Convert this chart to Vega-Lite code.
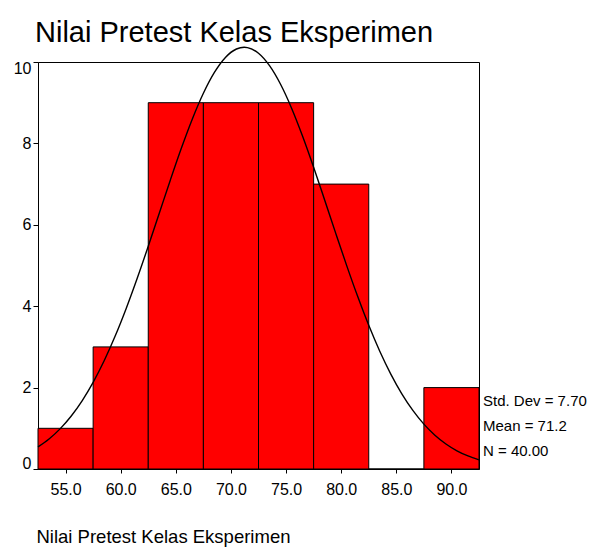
{
  "$schema": "https://vega.github.io/schema/vega-lite/v6.json",
  "width": 441,
  "height": 407,
  "autosize": {"type": "none"},
  "padding": {"left": 38, "top": 62, "right": 115, "bottom": 78},
  "background": "white",
  "config": {
    "font": "Liberation Sans",
    "view": {"stroke": "black", "strokeWidth": 1},
    "axis": {
      "grid": false,
      "domainColor": "black",
      "tickColor": "black",
      "labelColor": "black",
      "labelFont": "Liberation Sans",
      "labelFontSize": 16,
      "titleFont": "Liberation Sans",
      "titleColor": "black",
      "titleFontWeight": "normal"
    }
  },
  "title": {
    "text": "Nilai Pretest Kelas Eksperimen",
    "anchor": "start",
    "frame": "group",
    "font": "Liberation Sans",
    "fontSize": 29,
    "fontWeight": "normal",
    "color": "black",
    "baseline": "alphabetic",
    "dx": -3,
    "dy": 32,
    "offset": 5
  },
  "datasets": {
    "bins": [
      {"start": 52.5, "end": 57.5, "count": 1},
      {"start": 57.5, "end": 62.5, "count": 3},
      {"start": 62.5, "end": 67.5, "count": 9},
      {"start": 67.5, "end": 72.5, "count": 9},
      {"start": 72.5, "end": 77.5, "count": 9},
      {"start": 77.5, "end": 82.5, "count": 7},
      {"start": 82.5, "end": 87.5, "count": 0},
      {"start": 87.5, "end": 92.5, "count": 2}
    ],
    "curve": [
      {"x": 52.5, "d": 0.5429}, {"x": 53.5, "d": 0.7378}, {"x": 54.5, "d": 0.9861},
      {"x": 55.5, "d": 1.2963}, {"x": 56.5, "d": 1.6751}, {"x": 57.5, "d": 2.1284},
      {"x": 58.5, "d": 2.6591}, {"x": 59.5, "d": 3.2664}, {"x": 60.5, "d": 3.9458},
      {"x": 61.5, "d": 4.6866}, {"x": 62.5, "d": 5.4732}, {"x": 63.5, "d": 6.2849},
      {"x": 64.5, "d": 7.0966}, {"x": 65.5, "d": 7.8789}, {"x": 66.5, "d": 8.6010},
      {"x": 67.5, "d": 9.2322}, {"x": 68.5, "d": 9.7443}, {"x": 69.5, "d": 10.1127},
      {"x": 70.5, "d": 10.3194}, {"x": 71.2, "d": 10.3621}, {"x": 71.5, "d": 10.3542},
      {"x": 72.5, "d": 10.2155}, {"x": 73.5, "d": 9.9100}, {"x": 74.5, "d": 9.4529},
      {"x": 75.5, "d": 8.8660}, {"x": 76.5, "d": 8.1764}, {"x": 77.5, "d": 7.4144},
      {"x": 78.5, "d": 6.6111}, {"x": 79.5, "d": 5.7961}, {"x": 80.5, "d": 4.9968},
      {"x": 81.5, "d": 4.2357}, {"x": 82.5, "d": 3.5301}, {"x": 83.5, "d": 2.8931},
      {"x": 84.5, "d": 2.3312}, {"x": 85.5, "d": 1.8472}, {"x": 86.5, "d": 1.4391},
      {"x": 87.5, "d": 1.1024}, {"x": 88.5, "d": 0.8304}, {"x": 89.5, "d": 0.6152},
      {"x": 90.5, "d": 0.4480}, {"x": 91.5, "d": 0.3208}, {"x": 92.5, "d": 0.2259}
    ]
  },
  "layer": [
    {
      "data": {"name": "bins"},
      "mark": {"type": "rect", "fill": "#FF0000", "stroke": "black", "strokeWidth": 1},
      "encoding": {
        "x": {
          "field": "start", "type": "quantitative",
          "scale": {"domain": [52.5, 92.5], "nice": false, "zero": false},
          "axis": {
            "values": [55, 60, 65, 70, 75, 80, 85, 90],
            "format": ".1f",
            "tickSize": 4,
            "labelPadding": 8,
            "title": "Nilai Pretest Kelas Eksperimen",
            "titleFontSize": 18.5,
            "titleX": -2,
            "titleY": 73,
            "titleAlign": "left",
            "titleAnchor": "start",
            "titleBaseline": "alphabetic"
          }
        },
        "x2": {"field": "end"},
        "y": {
          "field": "count", "type": "quantitative",
          "scale": {"domain": [0, 10], "nice": false},
          "axis": {
            "values": [0, 2, 4, 6, 8, 10],
            "tickSize": 5,
            "labelPadding": 2,
            "labelFlush": true,
            "labelFlushOffset": 2,
            "title": null
          }
        },
        "y2": {"datum": 0}
      }
    },
    {
      "data": {"name": "curve"},
      "mark": {"type": "line", "color": "black", "strokeWidth": 1.4, "interpolate": "monotone"},
      "encoding": {
        "x": {"field": "x", "type": "quantitative"},
        "y": {"field": "d", "type": "quantitative"}
      }
    },
    {
      "data": {"values": [{"label": "Std. Dev = 7.70"}]},
      "mark": {"type": "text", "align": "left", "baseline": "middle", "dx": 4, "fontSize": 15, "color": "black"},
      "encoding": {
        "x": {"datum": 92.5},
        "y": {"datum": 1.67},
        "text": {"field": "label"}
      }
    },
    {
      "data": {"values": [{"label": "Mean = 71.2"}]},
      "mark": {"type": "text", "align": "left", "baseline": "middle", "dx": 4, "fontSize": 15, "color": "black"},
      "encoding": {
        "x": {"datum": 92.5},
        "y": {"datum": 1.06},
        "text": {"field": "label"}
      }
    },
    {
      "data": {"values": [{"label": "N = 40.00"}]},
      "mark": {"type": "text", "align": "left", "baseline": "middle", "dx": 4, "fontSize": 15, "color": "black"},
      "encoding": {
        "x": {"datum": 92.5},
        "y": {"datum": 0.44},
        "text": {"field": "label"}
      }
    }
  ]
}
